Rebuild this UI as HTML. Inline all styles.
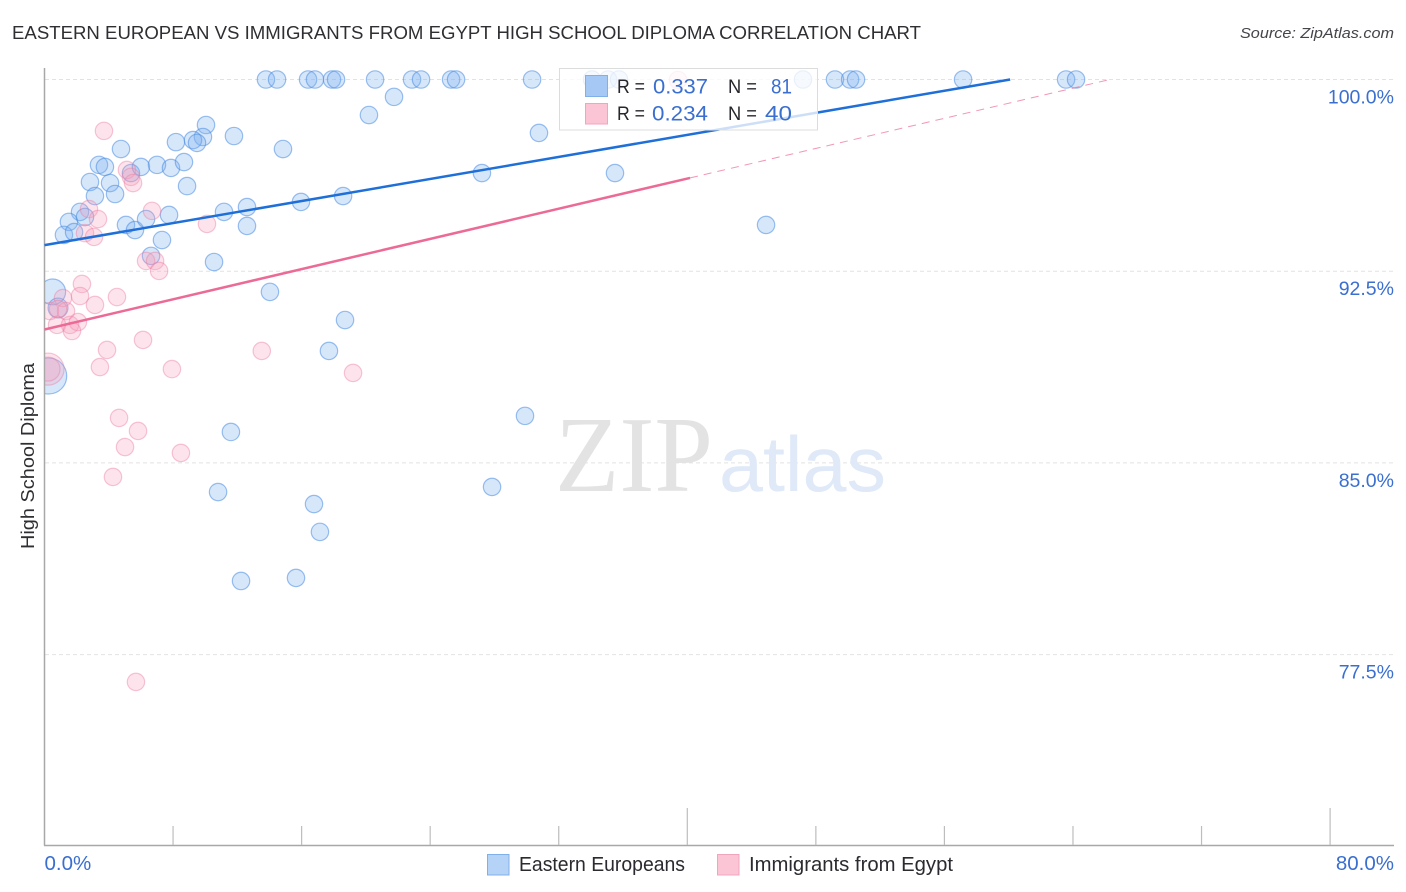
<!DOCTYPE html>
<html lang="en">
<head>
<meta charset="utf-8">
<title>Eastern European vs Immigrants from Egypt High School Diploma Correlation Chart</title>
<style>
html,body{margin:0;padding:0;background:#fff;width:1406px;height:892px;overflow:hidden}
svg{display:block;font-family:"Liberation Sans",Arial,sans-serif}
</style>
</head>
<body>
<svg id="chart" width="1406" height="892" viewBox="0 0 1406 892" xmlns="http://www.w3.org/2000/svg">
  <defs><clipPath id="plot-clip"><rect x="45" y="60" width="1349" height="785"/></clipPath></defs>
  <text x="12" y="39" font-size="18.5" fill="#2f2f33" textLength="909" lengthAdjust="spacingAndGlyphs">EASTERN EUROPEAN VS IMMIGRANTS FROM EGYPT HIGH SCHOOL DIPLOMA CORRELATION CHART</text>
  <text x="1394" y="38" font-size="15" font-style="italic" fill="#44444a" text-anchor="end" textLength="154" lengthAdjust="spacingAndGlyphs">Source: ZipAtlas.com</text>
  <text transform="translate(34 456) rotate(-90)" font-size="18.5" fill="#2f2f33" text-anchor="middle" textLength="186" lengthAdjust="spacingAndGlyphs">High School Diploma</text>
  <g id="grid"></g>
  <g>
    <text x="555" y="491" font-family="'Liberation Serif',serif" font-size="108" fill="#e3e3e3" textLength="158" lengthAdjust="spacingAndGlyphs">ZIP</text>
    <text x="719" y="491" font-family="'Liberation Sans',sans-serif" font-size="78" fill="#dfe9f8" textLength="167" lengthAdjust="spacingAndGlyphs">atlas</text>
  </g>
  <g id="axes"></g>
  <g id="points" clip-path="url(#plot-clip)"></g>
  <g id="trends"></g>
  <g>
    <rect x="559.5" y="68.5" width="258" height="61.5" fill="#fff" fill-opacity="0.78" stroke="#dcdcdc" stroke-width="1"/>
    <rect x="585.5" y="75.5" width="22" height="21" fill="#a5c9f4" stroke="#7fb0ea"/>
    <rect x="585.5" y="103.5" width="22" height="20.5" fill="#fcc5d6" stroke="#f0a5bd"/>
    <text x="617" y="93" font-size="19" fill="#26262c" textLength="28" lengthAdjust="spacingAndGlyphs">R =</text>
    <text x="653" y="93.5" font-size="21.5" fill="#3a6fd0" textLength="55" lengthAdjust="spacingAndGlyphs">0.337</text>
    <text x="728" y="93" font-size="19" fill="#26262c" textLength="29" lengthAdjust="spacingAndGlyphs">N =</text>
    <text x="771" y="93.5" font-size="21.5" fill="#3a6fd0" textLength="21" lengthAdjust="spacingAndGlyphs">81</text>
    <text x="617" y="120" font-size="19" fill="#26262c" textLength="28" lengthAdjust="spacingAndGlyphs">R =</text>
    <text x="652" y="120.5" font-size="21.5" fill="#3a6fd0" textLength="56" lengthAdjust="spacingAndGlyphs">0.234</text>
    <text x="728" y="120" font-size="19" fill="#26262c" textLength="29" lengthAdjust="spacingAndGlyphs">N =</text>
    <text x="765" y="120.5" font-size="21.5" fill="#3a6fd0" textLength="27" lengthAdjust="spacingAndGlyphs">40</text>
  </g>
  <g>
    <rect x="487.5" y="854.5" width="21.5" height="20.5" fill="#b5d2f7" stroke="#7fb0ea"/>
    <text x="519" y="871" font-size="20" fill="#2a2a30" textLength="166" lengthAdjust="spacingAndGlyphs">Eastern Europeans</text>
    <rect x="717.5" y="854.5" width="21.5" height="20.5" fill="#fcc5d6" stroke="#f0a5bd"/>
    <text x="749" y="871" font-size="20" fill="#2a2a30" textLength="204" lengthAdjust="spacingAndGlyphs">Immigrants from Egypt</text>
  </g>
</svg>
<script>
const yTicks = [100, 92.5, 85, 77.5];
const yTickLabels = ["100.0%", "92.5%", "85.0%", "77.5%"];
const xTicks = [0, 8, 16, 24, 32, 40, 48, 56, 64, 72, 80];
const xMajorTicks = [40, 80];
const xEndLabels = ["0.0%", "80.0%"];

const blueX = [13.78,14.47,16.40,16.83,17.89,18.14,20.57,22.87,23.43,25.30,25.61,30.34,34.07,35.07,35.75,47.20,49.19,50.13,50.50,57.16,63.57,64.19,
  10.05,11.79,14.84,9.86,9.24,9.49,8.18,4.76,3.39,3.76,5.38,6.00,7.00,7.87,8.68,2.83,4.08,3.14,4.39,8.87,2.21,1.52,2.52,1.21,1.84,5.07,5.63,6.32,7.75,7.31,11.17,12.60,12.60,15.96,18.58,6.63,10.55,14.03,18.70,17.70,
  0.51,0.84,0.26,20.19,21.75,30.77,27.22,35.50,44.90,29.90,27.85,11.60,10.80,16.77,17.14,12.23,15.65];
const blueY = [100,100,100,100,100,100,100,100,100,100,100,100,100,100,100,100,100,100,100,100,100,100,
  98.22,97.79,97.28,97.75,97.63,97.52,97.55,97.28,96.66,96.58,96.34,96.58,96.66,96.54,96.77,95.99,95.95,95.44,95.52,95.83,94.82,94.43,94.62,93.92,94.03,94.31,94.11,94.54,94.70,93.72,94.82,95.01,94.27,95.21,95.44,93.10,92.86,91.69,90.59,89.38,
  91.69,91.06,88.40,98.61,99.32,97.91,96.34,96.34,94.31,86.84,84.06,86.21,83.86,83.39,82.30,80.38,80.50];
const blueLargeIndex = [62, 63, 64];
const blueLargeWeight = [2.2, 1.3, 4.3];

const pinkX = [3.70,5.13,5.38,5.51,2.77,3.33,2.52,3.08,6.69,10.11,6.32,6.88,7.13,2.33,2.21,3.14,4.51,1.15,0.34,1.34,0.84,0.78,1.59,2.08,1.71,6.13,3.89,3.45,7.93,13.52,0.22,0.22,19.20,4.64,5.82,5.01,8.49,4.26,5.69,39.42];
const pinkY = [97.99,96.46,96.19,95.95,94.93,94.54,93.99,93.84,94.86,94.35,92.90,92.90,92.51,92.00,91.53,91.18,91.49,91.45,90.94,90.94,91.02,90.40,90.40,90.51,90.16,89.81,89.42,88.75,88.67,89.38,88.67,88.67,88.52,86.76,86.25,85.62,85.39,84.45,76.43,99.98];
const pinkLargeIndex = [30, 31];
const pinkLargeWeight = [3.4, 1.9];

const blueTrendX = [0, 60.09];
const blueTrendY = [93.52, 100];
const pinkTrendX = [0, 40.17];
const pinkTrendY = [90.22, 96.15];
const pinkDashX = [40.17, 66.3];
const pinkDashY = [96.15, 100];

const NS = "http://www.w3.org/2000/svg";
const sx = v => 44.5 + v * 16.07;
const sy = v => 79.5 + (100 - v) * 25.56;
const BASE_R = 8.7;

function mk(tag, attrs, parent) {
  const el = document.createElementNS(NS, tag);
  for (const k in attrs) el.setAttribute(k, attrs[k]);
  parent.appendChild(el);
  return el;
}

const gridG = document.getElementById("grid");
const axesG = document.getElementById("axes");
yTicks.forEach((t, i) => {
  const line = mk("line", {x1: 45, x2: 1394, y1: sy(t), y2: sy(t), stroke: "#e2e2e2", "stroke-width": 1, "stroke-dasharray": "4 3"}, gridG);
  
  
  const label = mk("text", {x: 1394, y: sy(t) + 24, "font-size": 19.5, fill: "#3a6fd0", "text-anchor": "end"}, axesG);
  
  
  label.textContent = yTickLabels[i];
});

const yAxis = mk("line", {x1: 44.5, x2: 44.5, y1: 68, y2: 845.5, stroke: "#a8a8a8", "stroke-width": 1.5}, axesG);


const xAxis = mk("line", {x1: 44, x2: 1394, y1: 845.5, y2: 845.5, stroke: "#a8a8a8", "stroke-width": 1.5}, axesG);



xTicks.forEach(t => {
  if (t === 0) return;
  const top = xMajorTicks.includes(t) ? 808 : 826;
  const tick = mk("line", {x1: sx(t), x2: sx(t), y1: top, y2: 845, stroke: "#bdbdbd", "stroke-width": 1.2}, axesG);
  
  
});

const xLabelLeft = mk("text", {x: 44.5, y: 870, "font-size": 20.5, fill: "#3a6fd0"}, axesG);


xLabelLeft.textContent = xEndLabels[0];
const xLabelRight = mk("text", {x: 1394, y: 870, "font-size": 20.5, fill: "#3a6fd0", "text-anchor": "end"}, axesG);


xLabelRight.textContent = xEndLabels[1];

const ptsG = document.getElementById("points");
function radius(i, idxList, weights) {
  const k = idxList.indexOf(i);
  return BASE_R * Math.sqrt(k >= 0 ? weights[k] : 1);
}
blueX.forEach((v, i) => {
  const c = mk("circle", {cx: sx(v), cy: sy(blueY[i]), r: radius(i, blueLargeIndex, blueLargeWeight), fill: "#7aaef0", "fill-opacity": 0.3, stroke: "#4a8ce2", "stroke-opacity": 0.55, "stroke-width": 1.2}, ptsG);
  
  
});
pinkX.forEach((v, i) => {
  const c = mk("circle", {cx: sx(v), cy: sy(pinkY[i]), r: radius(i, pinkLargeIndex, pinkLargeWeight), fill: "#f79cb8", "fill-opacity": 0.27, stroke: "#ec7aa0", "stroke-opacity": 0.42, "stroke-width": 1.2}, ptsG);
  
  
});

const trG = document.getElementById("trends");
const blueLine = mk("line", {x1: sx(blueTrendX[0]), y1: sy(blueTrendY[0]), x2: sx(blueTrendX[1]), y2: sy(blueTrendY[1]), stroke: "#1f6fd8", "stroke-width": 2.5}, trG);


const pinkLine = mk("line", {x1: sx(pinkTrendX[0]), y1: sy(pinkTrendY[0]), x2: sx(pinkTrendX[1]), y2: sy(pinkTrendY[1]), stroke: "#ec6a96", "stroke-width": 2.5}, trG);


const pinkDash = mk("line", {x1: sx(pinkDashX[0]), y1: sy(pinkDashY[0]), x2: sx(pinkDashX[1]), y2: sy(pinkDashY[1]), stroke: "#ec6a96", "stroke-opacity": 0.7, "stroke-width": 1, "stroke-dasharray": "8 6"}, trG);


</script>
</body>
</html>
